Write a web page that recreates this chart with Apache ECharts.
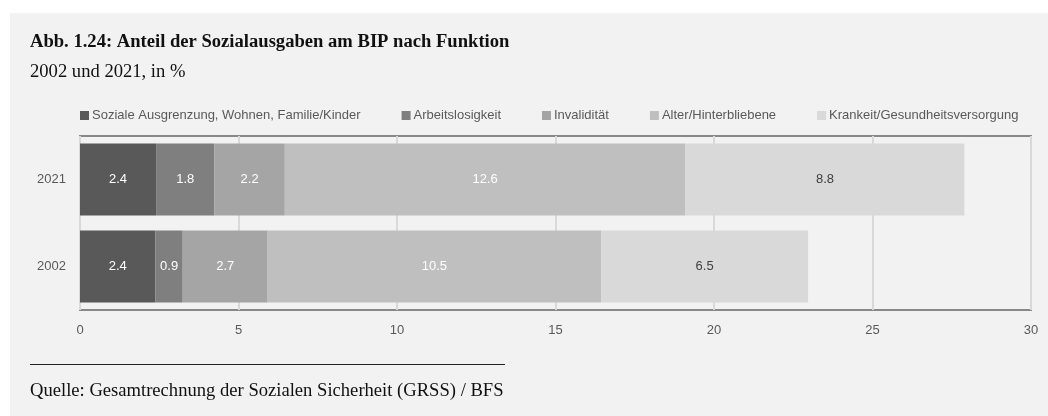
<!DOCTYPE html>
<html lang="de">
<head>
    <meta charset="UTF-8">
    <title>Abb. 1.24</title>
    <script src="https://cdn.jsdelivr.net/npm/echarts@6/dist/echarts.min.js"></script>
    <style>
        body { margin: 0; background: #fff; }
    </style>
</head>
<body>
<div id="main" style="width:1048px;height:416px;"></div>
<script type="text/javascript">
    // Daten (Anteil am BIP, in %)
    var jahre = ['2021', '2002'];
    var funktionen = ['Soziale Ausgrenzung, Wohnen, Familie/Kinder', 'Arbeitslosigkeit', 'Invalidität', 'Alter/Hinterbliebene', 'Krankeit/Gesundheitsversorgung'];
    var sozialeAusgrenzung = [2.4, 2.38];
    var arbeitslosigkeit = [1.84, 0.86];
    var invaliditaet = [2.22, 2.68];
    var alter = [12.64, 10.52];
    var krankheit = [8.8, 6.53];
    var xTicks = [0, 5, 10, 15, 20, 25, 30];

    var farben = ['#595959', '#7f7f7f', '#a5a5a5', '#bfbfbf', '#d9d9d9'];
    var labelFarben = ['#fff', '#fff', '#fff', '#fff', '#404040'];
    var sans = "'Liberation Sans', Arial, sans-serif";
    var serif = "'Liberation Serif', 'Times New Roman', serif";

    var werte = [sozialeAusgrenzung, arbeitslosigkeit, invaliditaet, alter, krankheit];
    var series = [];
    for (var i = 0; i < funktionen.length; i++) {
        series.push({
            name: funktionen[i],
            type: 'bar',
            stack: 'gesamt',
            barWidth: 72,
            data: werte[i],
            itemStyle: {color: farben[i]},
            label: {
                show: true,
                position: 'inside',
                color: labelFarben[i],
                fontFamily: sans,
                fontSize: 13,
                formatter: function (p) { return p.value.toFixed(1); }
            }
        });
    }

    var myChart = echarts.init(document.getElementById('main'));
    var option = {
        animation: false,
        backgroundColor: '#fff',
        graphic: [
            {type: 'rect', z: -100, shape: {x: 10, y: 13, width: 1038, height: 403}, style: {fill: '#f2f2f2'}},
            {type: 'line', shape: {x1: 30, y1: 364.5, x2: 505, y2: 364.5}, style: {stroke: '#222', lineWidth: 1}},
            {type: 'text', x: 30, y: 382, style: {text: 'Quelle: Gesamtrechnung der Sozialen Sicherheit (GRSS) / BFS', font: '18.6px ' + serif, fill: '#111'}}
        ],
        title: [
            {text: 'Abb. 1.24: Anteil der Sozialausgaben am BIP nach Funktion', left: 30, top: 33, padding: 0,
                textStyle: {fontFamily: serif, fontSize: 18.6, fontWeight: 'bold', color: '#111'}},
            {text: '2002 und 2021, in %', left: 30, top: 63, padding: 0,
                textStyle: {fontFamily: serif, fontSize: 18.6, fontWeight: 'normal', color: '#111'}}
        ],
        legend: {
            data: funktionen,
            left: 80,
            right: 0,
            top: 109,
            padding: 0,
            itemWidth: 9,
            itemHeight: 9,
            itemGap: 41,
            icon: 'rect',
            textStyle: {fontFamily: sans, fontSize: 13, color: '#595959', padding: [0, 0, 0, -2]}
        },
        grid: {
            left: 80, right: 17, top: 136, bottom: 106,
            show: true, borderColor: '#888', borderWidth: 2, backgroundColor: 'transparent'
        },
        xAxis: {
            type: 'value',
            min: xTicks[0],
            max: xTicks[xTicks.length - 1],
            interval: 5,
            axisLine: {show: false},
            axisTick: {show: false},
            splitLine: {lineStyle: {color: '#d9d9d9', width: 2}},
            axisLabel: {color: '#595959', fontFamily: sans, fontSize: 13, margin: 14}
        },
        yAxis: {
            type: 'category',
            data: jahre,
            inverse: true,
            axisLine: {show: false},
            axisTick: {show: false},
            axisLabel: {color: '#595959', fontFamily: sans, fontSize: 13, margin: 14}
        },
        series: series
    };
    myChart.setOption(option);
</script>
</body>
</html>
